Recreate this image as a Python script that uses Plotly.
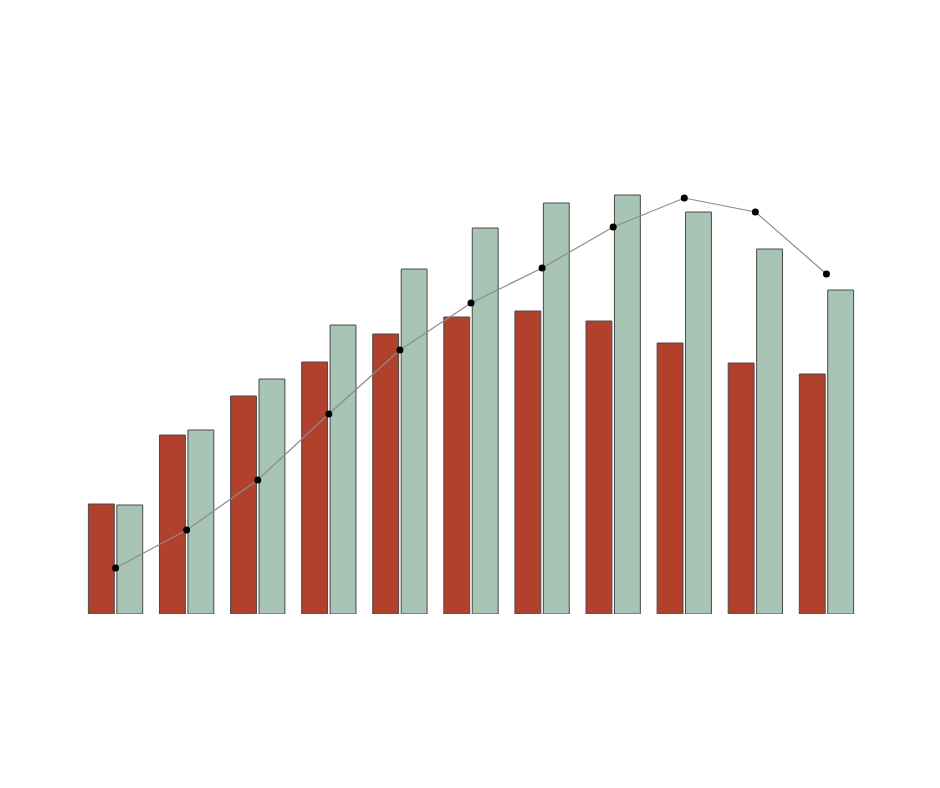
import plotly.graph_objects as go

# category labels (not shown in the picture)
categories = ['1', '2', '3', '4', '5', '6', '7', '8', '9', '10', '11']

# series values (baseline = 0)
red_values = [110, 179, 218, 252, 280, 297, 303, 293, 271, 251, 240]
green_values = [109, 184, 235, 289, 345, 386, 411, 419, 402, 365, 324]
line_values = [46, 84, 134, 200, 264, 311, 346, 387, 416, 402, 340]

fig = go.Figure()

fig.add_trace(go.Bar(
    x=categories,
    y=red_values,
    marker=dict(color='#b1402d', line=dict(color='#4a4a4a', width=1)),
    showlegend=False
))
fig.add_trace(go.Bar(
    x=categories,
    y=green_values,
    marker=dict(color='#a8c4b5', line=dict(color='#4a4a4a', width=1)),
    showlegend=False
))
fig.add_trace(go.Scatter(
    x=categories,
    y=line_values,
    mode='lines+markers',
    line=dict(color='#8c8c8c', width=1.2),
    marker=dict(color='black', size=7),
    showlegend=False
))

fig.update_layout(
    width=940,
    height=788,
    margin=dict(l=72, r=86, t=93, b=182),
    paper_bgcolor='white',
    plot_bgcolor='white',
    barmode='group',
    bargap=0.2,
    bargroupgap=0.09,
    xaxis=dict(visible=False, range=[-0.5, 10.5]),
    yaxis=dict(visible=False, range=[0, 513]),
)

fig.write_html("out.html")
